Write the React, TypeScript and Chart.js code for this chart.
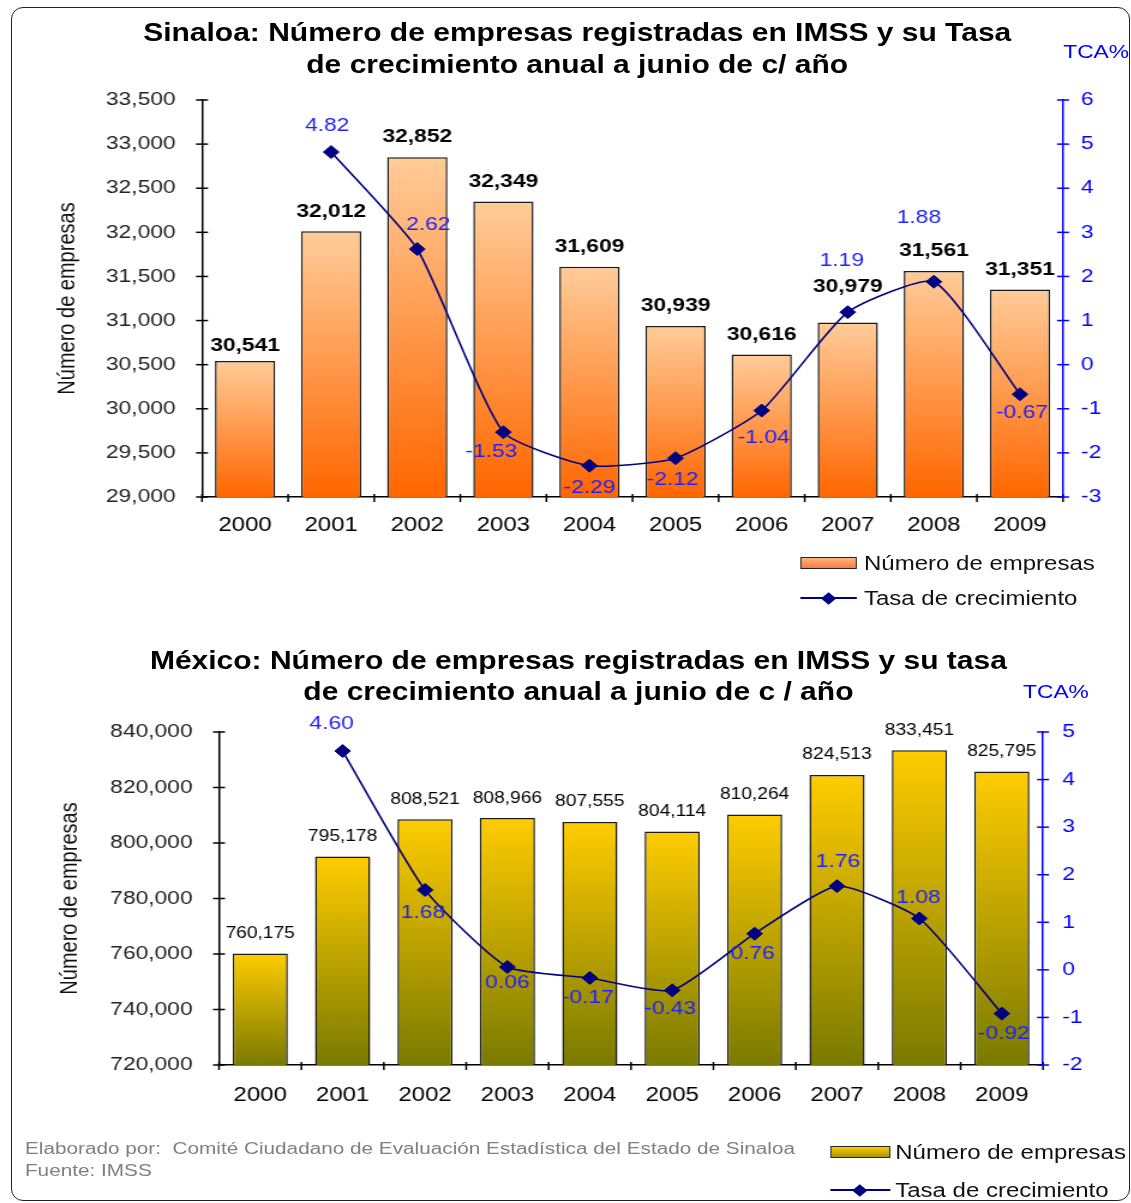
import React, { useEffect, useRef } from 'react';
import { Chart, registerables } from 'chart.js';

Chart.register(...registerables);

const FONT = "'Liberation Sans', Arial, Helvetica, sans-serif";
Chart.defaults.font.family = FONT;

// The reference picture is horizontally stretched; everything is laid out in
// local units and stretched by SX.
const SX = 1.2;
const LOCAL_W = 942;

// ---------- data ----------
const years = ['2000', '2001', '2002', '2003', '2004', '2005', '2006', '2007', '2008', '2009'];

const sinaloaEmpresas = [30541, 32012, 32852, 32349, 31609, 30939, 30616, 30979, 31561, 31351];
const sinaloaTasa: (number | null)[] = [null, 4.82, 2.62, -1.53, -2.29, -2.12, -1.04, 1.19, 1.88, -0.67];
const sinaloaEmpresasTicks = [29000, 29500, 30000, 30500, 31000, 31500, 32000, 32500, 33000, 33500];
const sinaloaTasaTicks = [-3, -2, -1, 0, 1, 2, 3, 4, 5, 6];

const mexicoEmpresas = [760175, 795178, 808521, 808966, 807555, 804114, 810264, 824513, 833451, 825795];
const mexicoTasa: (number | null)[] = [null, 4.6, 1.68, 0.06, -0.17, -0.43, 0.76, 1.76, 1.08, -0.92];
const mexicoEmpresasTicks = [720000, 740000, 760000, 780000, 800000, 820000, 840000];
const mexicoTasaTicks = [-2, -1, 0, 1, 2, 3, 4, 5];

// ---------- label placement (page px) ----------
const sinaloaBarLabelLift = [15, 20, 20, 20, 20, 20, 20, 36, 20, 20];
const sinaloaTasaLabelShift: [number, number][] = [
  [0, 0], [-4, -26], [11, -24], [-12, 20], [0, 22], [-3, 22], [2, 27], [-6, -51], [-15, -64], [2, 19],
];
const mexicoBarLabelLift = [20, 20, 20, 20, 20, 20, 20, 20, 20, 20];
const mexicoTasaLabelShift: [number, number][] = [
  [0, 0], [-11, -27], [-2, 23], [0, 16], [-2, 20], [-2, 18], [-2, 20], [1, -24], [-1, -21], [2, 20],
];

type Cfg = {
  labels: string[];
  bars: number[];
  rates: (number | null)[];
  leftTicks: number[];
  rightTicks: number[];
  top: number;
  height: number;
  areaTop: number;
  areaBottom: number;
  leftAxis: number; // page x
  rightAxis: number; // page x
  leftPad: number;
  rightPad: number;
  xPad: number;
  titleCenter: number; // page x
  barPct: number;
  barTop: string;
  barBottom: string;
  barFont: string;
  barLift: number[];
  rateShift: [number, number][];
};

const fmt = (v: number) => v.toLocaleString('en-US');

function ComboChart({ cfg }: { cfg: Cfg }) {
  const ref = useRef<HTMLCanvasElement>(null);
  useEffect(() => {
    const canvas = ref.current!;
    const xAxisH = cfg.top + cfg.height - cfg.areaBottom;
    const leftW = cfg.leftAxis / SX;
    const rightW = LOCAL_W - cfg.rightAxis / SX;
    const titleOffset = cfg.titleCenter / SX - 12;

    const gradient = (c: any) => {
      const chart = c.chart;
      const area = chart.chartArea;
      if (!area || c.type !== 'data' || !chart.scales.y) return cfg.barBottom;
      const y = chart.scales.y.getPixelForValue(c.raw);
      if (!isFinite(y)) return cfg.barBottom;
      const g = chart.ctx.createLinearGradient(0, y, 0, area.bottom);
      g.addColorStop(0, cfg.barTop);
      g.addColorStop(1, cfg.barBottom);
      return g;
    };

    const annot = {
      id: 'annot',
      afterDatasetsDraw(chart: any) {
        const ctx = chart.ctx as CanvasRenderingContext2D;
        ctx.save();
        ctx.textAlign = 'center';
        ctx.textBaseline = 'middle';
        // bar value labels
        ctx.font = cfg.barFont;
        ctx.fillStyle = '#000';
        chart.getDatasetMeta(0).data.forEach((el: any, i: number) => {
          ctx.fillText(fmt(cfg.bars[i]), el.x, el.y - cfg.barLift[i]);
        });
        // rate labels
        ctx.font = `19px ${FONT}`;
        ctx.fillStyle = '#1f1fff';
        chart.getDatasetMeta(1).data.forEach((el: any, i: number) => {
          const v = cfg.rates[i];
          if (v == null || !isFinite(el.x) || !isFinite(el.y)) return;
          const [dx, dy] = cfg.rateShift[i];
          ctx.fillText(v.toFixed(2), el.x + dx / SX, el.y + dy);
        });
        ctx.restore();
      },
      afterDraw(chart: any) {
        const ctx = chart.ctx as CanvasRenderingContext2D;
        const { chartArea: a, scales } = chart;
        ctx.save();
        ctx.lineWidth = 1.5;
        const line = (x1: number, y1: number, x2: number, y2: number) => {
          ctx.beginPath();
          ctx.moveTo(x1, y1);
          ctx.lineTo(x2, y2);
          ctx.stroke();
        };
        ctx.strokeStyle = '#000';
        scales.y.ticks.forEach((_t: any, i: number) => {
          const y = scales.y.getPixelForTick(i);
          line(a.left - 5, y, a.left + 5, y);
        });
        const n = cfg.labels.length;
        for (let i = 0; i <= n; i++) {
          const x = a.left + (i * (a.right - a.left)) / n;
          line(x, a.bottom - 3, x, a.bottom + 5);
        }
        ctx.strokeStyle = '#0000ff';
        scales.y1.ticks.forEach((_t: any, i: number) => {
          const y = scales.y1.getPixelForTick(i);
          line(a.right - 5, y, a.right + 5, y);
        });
        ctx.restore();
      },
    };

    const chart = new Chart(canvas, {
      type: 'bar',
      data: {
        labels: cfg.labels,
        datasets: [
          {
            type: 'bar',
            label: 'Número de empresas',
            data: cfg.bars,
            yAxisID: 'y',
            order: 2,
            backgroundColor: gradient as any,
            borderColor: '#1a1a1a',
            borderWidth: 1.5,
            barPercentage: cfg.barPct,
            categoryPercentage: 1,
          },
          {
            type: 'line',
            label: 'Tasa de crecimiento',
            data: cfg.rates as any,
            yAxisID: 'y1',
            order: 1,
            borderColor: '#000080',
            borderWidth: 1.6,
            tension: 0.18,
            pointStyle: 'rectRot',
            pointRadius: 6.5,
            pointBackgroundColor: '#000080',
            pointBorderColor: '#000080',
            pointBorderWidth: 1,
            fill: false,
          } as any,
        ],
      },
      options: {
        responsive: false,
        animation: false,
        devicePixelRatio: 1,
        layout: { padding: { top: cfg.areaTop - cfg.top, left: 0, right: 0, bottom: 0 } },
        plugins: {
          legend: { display: false },
          tooltip: { enabled: false },
          title: { display: false },
        },
        scales: {
          x: {
            type: 'category',
            offset: true,
            grid: { display: false, drawTicks: false },
            border: { display: true, color: '#000', width: 1.5 },
            ticks: { color: '#000', font: { size: 20 }, padding: cfg.xPad, maxRotation: 0, autoSkip: false },
            afterFit: (s: any) => {
              s.height = xAxisH;
            },
          },
          y: {
            type: 'linear',
            position: 'left',
            min: cfg.leftTicks[0],
            max: cfg.leftTicks[cfg.leftTicks.length - 1],
            afterBuildTicks: (s: any) => {
              s.ticks = cfg.leftTicks.map((v) => ({ value: v }));
            },
            grid: { display: false, drawTicks: false },
            border: { display: true, color: '#000', width: 1.5 },
            ticks: { color: '#222', font: { size: 19 }, padding: cfg.leftPad, callback: (v: any) => fmt(Number(v)) },
            title: {
              display: true,
              text: 'Número de empresas',
              color: '#111',
              font: { size: 20 },
              padding: { top: titleOffset, bottom: 0 },
            },
            afterFit: (s: any) => {
              s.width = leftW;
            },
          },
          y1: {
            type: 'linear',
            position: 'right',
            min: cfg.rightTicks[0],
            max: cfg.rightTicks[cfg.rightTicks.length - 1],
            afterBuildTicks: (s: any) => {
              s.ticks = cfg.rightTicks.map((v) => ({ value: v }));
            },
            grid: { display: false, drawTicks: false },
            border: { display: true, color: '#0000ff', width: 1.5 },
            ticks: { color: '#0000ff', font: { size: 19 }, padding: cfg.rightPad, callback: (v: any) => String(v) },
            afterFit: (s: any) => {
              s.width = rightW;
            },
          },
        },
      } as any,
      plugins: [annot],
    });
    return () => chart.destroy();
  }, []);
  return (
    <canvas
      ref={ref}
      width={LOCAL_W}
      height={cfg.height}
      style={{ position: 'absolute', left: 0, top: cfg.top, width: LOCAL_W, height: cfg.height, display: 'block' }}
    />
  );
}

const sinaloaCfg: Cfg = {
  labels: years,
  bars: sinaloaEmpresas,
  rates: sinaloaTasa,
  leftTicks: sinaloaEmpresasTicks,
  rightTicks: sinaloaTasaTicks,
  top: 0,
  height: 560,
  areaTop: 100,
  areaBottom: 497,
  leftAxis: 202,
  rightAxis: 1063,
  leftPad: 22,
  rightPad: 15,
  xPad: 16,
  titleCenter: 68,
  barPct: 0.7,
  barTop: '#FFCC99',
  barBottom: '#FF6600',
  barFont: `bold 19px ${FONT}`,
  barLift: sinaloaBarLabelLift,
  rateShift: sinaloaTasaLabelShift,
};

const mexicoCfg: Cfg = {
  labels: years,
  bars: mexicoEmpresas,
  rates: mexicoTasa,
  leftTicks: mexicoEmpresasTicks,
  rightTicks: mexicoTasaTicks,
  top: 640,
  height: 488,
  areaTop: 732,
  areaBottom: 1065,
  leftAxis: 219,
  rightAxis: 1043,
  leftPad: 22,
  rightPad: 16,
  xPad: 18,
  titleCenter: 70,
  barPct: 0.67,
  barTop: '#FFCC00',
  barBottom: '#7A7A00',
  barFont: `16px ${FONT}`,
  barLift: mexicoBarLabelLift,
  rateShift: mexicoTasaLabelShift,
};

const abs = (s: React.CSSProperties): React.CSSProperties => ({ position: 'absolute', whiteSpace: 'nowrap', ...s });

function Legend({ x, yBox, yLine, w, textX, swatch }: { x: number; yBox: number; yLine: number; w: number; textX: number; swatch: string }) {
  return (
    <>
      <div style={abs({ left: x, top: yBox - 6, width: w, height: 12, boxSizing: 'border-box', border: '1.5px solid #222', background: swatch })} />
      <div style={abs({ left: textX, top: yBox - 12, fontSize: 20, lineHeight: '24px', color: '#111' })}>Número de empresas</div>
      <div style={abs({ left: x, top: yLine - 1, width: w, height: 2, background: '#000080' })} />
      <div style={abs({ left: x + w / 2 - 4.5, top: yLine - 4.5, width: 9, height: 9, background: '#000080', transform: 'rotate(45deg)' })} />
      <div style={abs({ left: textX, top: yLine - 12, fontSize: 20, lineHeight: '24px', color: '#111' })}>Tasa de crecimiento</div>
    </>
  );
}

export default function App() {
  useEffect(() => {
    document.body.style.overflow = 'hidden';
  }, []);
  return (
    <div style={{ position: 'absolute', left: 0, top: 0, width: 1131, height: 1203, overflow: 'hidden', background: '#fff' }}>
      <div
        style={{
          position: 'absolute',
          left: 11,
          top: 7,
          width: 1119,
          height: 1194,
          boxSizing: 'border-box',
          border: '1.5px solid #222',
          borderRadius: 12,
        }}
      />
      <div
        style={{
          position: 'absolute',
          left: 0,
          top: 0,
          width: LOCAL_W,
          height: 1203,
          transform: `scaleX(${SX})`,
          transformOrigin: '0 0',
          fontFamily: FONT,
        }}
      >
        <ComboChart cfg={sinaloaCfg} />
        <ComboChart cfg={mexicoCfg} />

        <div style={abs({ left: 81, top: 16, width: 800, textAlign: 'center', fontSize: 25, fontWeight: 'bold', lineHeight: '32px', color: '#000' })}>
          Sinaloa: Número de empresas registradas en IMSS y su Tasa
          <br />
          de crecimiento anual a junio de c/ año
        </div>
        <div style={abs({ left: 886, top: 40, fontSize: 19, lineHeight: '24px', color: '#0000ff' })}>TCA%</div>

        <Legend x={666.7} yBox={563} yLine={598} w={47.5} textX={720} swatch="linear-gradient(to bottom, #FFB585, #FF7A3A)" />

        <div style={abs({ left: 82, top: 644.5, width: 800, textAlign: 'center', fontSize: 25, fontWeight: 'bold', lineHeight: '31px', color: '#000' })}>
          México: Número de empresas registradas en IMSS y su tasa
          <br />
          de crecimiento anual a junio de c / año
        </div>
        <div style={abs({ left: 852.5, top: 680, fontSize: 19, lineHeight: '24px', color: '#0000ff' })}>TCA%</div>

        <Legend x={691.7} yBox={1152} yLine={1190} w={50} textX={746} swatch="linear-gradient(to bottom, #FFCC00, #A89400)" />

        <div style={abs({ left: 20.8, top: 1138, fontSize: 17.3, lineHeight: '21px', color: '#808080' })}>
          Elaborado por:&nbsp; Comité Ciudadano de Evaluación Estadística del Estado de Sinaloa
        </div>
        <div style={abs({ left: 20.8, top: 1160, fontSize: 17.3, lineHeight: '21px', color: '#808080' })}>Fuente: IMSS</div>
      </div>
    </div>
  );
}
